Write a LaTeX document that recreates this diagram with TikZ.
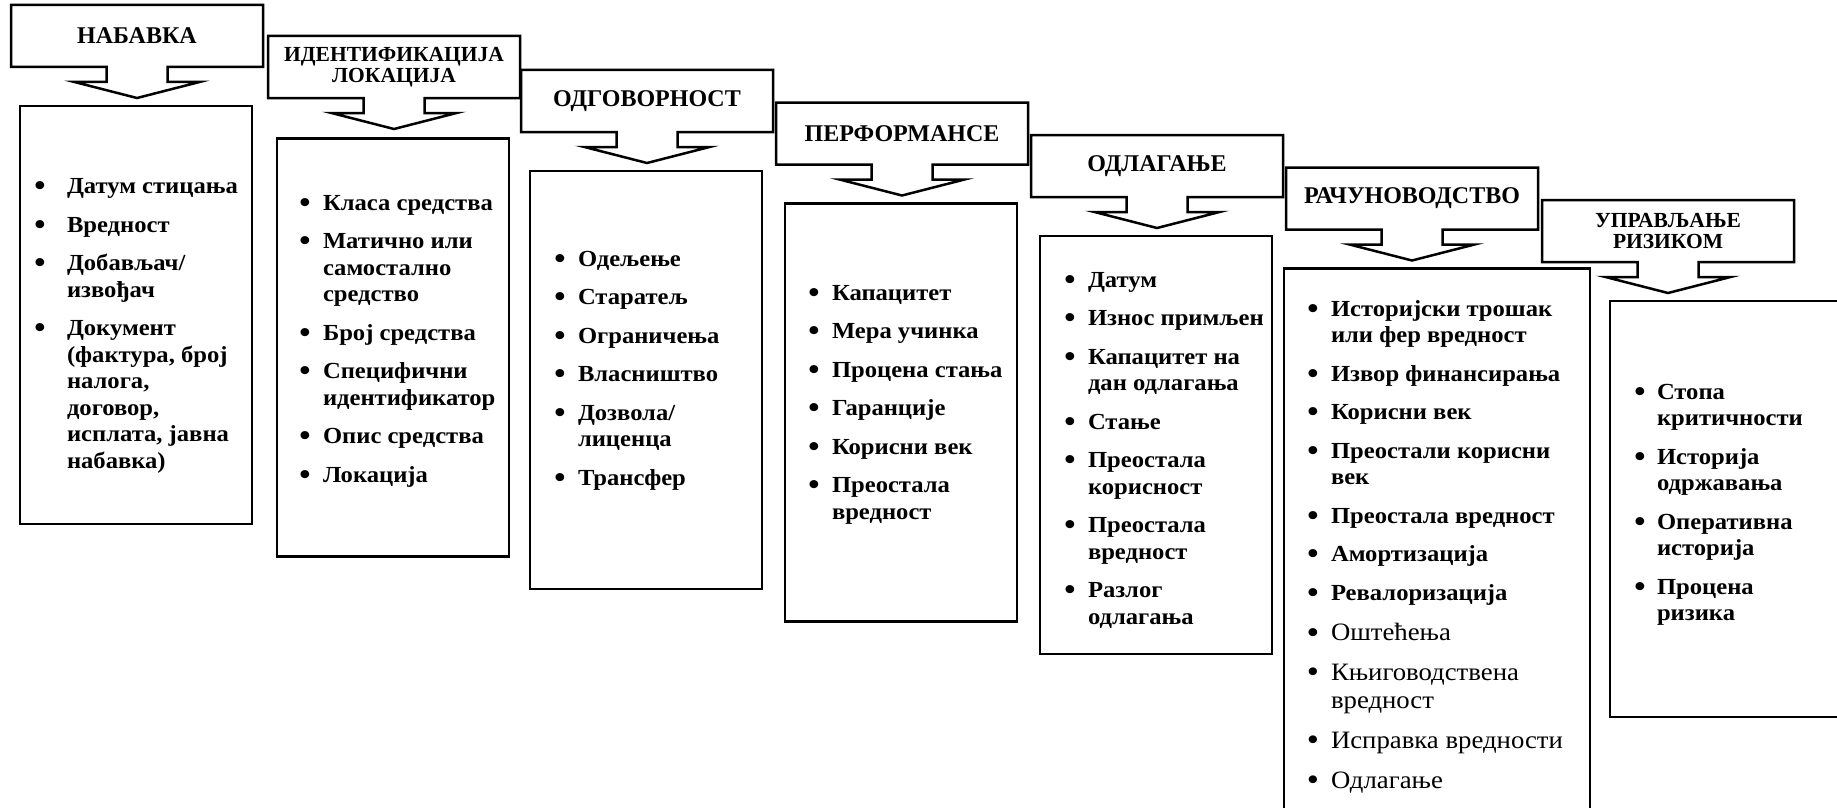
\documentclass[tikz,border=0pt]{standalone}
\usepackage{fontspec}
\setmainfont{Liberation Serif}[FakeStretch=1.07]
\newfontfamily\hfont{Liberation Serif}
\usetikzlibrary{calc}
\newlength\bhang
\newcommand\blist[2]{\vtop{\hsize=330pt\parindent=0pt\parskip=12pt\relax\def\\{\newline}\setlength\bhang{#1}\fontsize{23}{26.5}\selectfont\bfseries #2}}
\newcommand\bdot{\raisebox{-2.2pt}{\scalebox{1.3}{\textbullet}}}
\newcommand\bl[1]{\noindent\hangindent=\bhang\hangafter=1\hbox to\bhang{\hbox to 0pt{\hss\bdot\hss}\hss}\strut#1\par}
\newcommand\rg{\fontsize{25}{28}\selectfont\mdseries}
\newcommand\callout[1]{%
  \draw[hline] (#1.north west) -- (#1.north east) -- (#1.south east)
    -- ($(#1.south)+(30.5,0)$) -- ++(0,15) -- ++(32,0) -- ($(#1.south)+(0,31)$)
    -- ($(#1.south)+(-62.5,15)$) -- ++(32,0) -- ($(#1.south)+(-30.5,0)$)
    -- (#1.south west) -- cycle;}
\tikzset{
  hdr/.style={minimum width=252pt, minimum height=62pt, inner sep=0pt, outer sep=0pt,
    font=\hfont\fontsize{24}{26}\selectfont\bfseries, align=center},
  hdrtwo/.style={hdr, font=\hfont\fontsize{21.5}{21.5}\selectfont\bfseries},
  hline/.style={draw=black, line width=2.5pt, line join=miter},
  cbox/.style={draw=black, line width=2.5pt, inner sep=0pt, outer sep=0pt, anchor=north west},
  lst/.style={inner sep=0pt, outer sep=0pt, anchor=north west},
}
\begin{document}
\begin{tikzpicture}[x=1pt,y=-1pt]
\clip (0,0) rectangle (1837,808);
\path[use as bounding box] (0,0) rectangle (1837,808);
% headers
\node[hdr] (h1) at (137,36) {НАБАВКА};
\node[hdrtwo] (h2) at (394,67) {ИДЕНТИФИКАЦИЈА\\ЛОКАЦИЈА};
\node[hdr] (h3) at (647,101) {ОДГОВОРНОСТ};
\node[hdr] (h4) at (902,133.5) {ПЕРФОРМАНСЕ};
\node[hdr] (h5) at (1157,166) {ОДЛАГАЊЕ};
\node[hdr] (h6) at (1412,198.5) {РАЧУНОВОДСТВО};
\node[hdrtwo] (h7) at (1668,231) {УПРАВЉАЊЕ\\РИЗИКОМ};
\foreach \h in {h1,h2,h3,h4,h5,h6,h7} {\callout{\h}}
% content boxes
\node[cbox, minimum width=232pt, minimum height=418pt] (c1) at (20,106) {};
\node[cbox, minimum width=232pt, minimum height=418pt] (c2) at (277,138.5) {};
\node[cbox, minimum width=232pt, minimum height=418pt] (c3) at (530,171) {};
\node[cbox, minimum width=232pt, minimum height=418pt] (c4) at (785,203.5) {};
\node[cbox, minimum width=232pt, minimum height=418pt] (c5) at (1040,236) {};
\node[cbox, minimum width=306pt, minimum height=600pt] (c6) at (1284,268.5) {};
\node[cbox, minimum width=300pt, minimum height=416pt] (c7) at (1610,301) {};
% lists
\node[lst] (l1) at (40,175) {\blist{27pt}{%
  \bl{Датум стицања}
  \bl{Вредност}
  \bl{Добављач/\\извођач}
  \bl{Документ\\(фактура, број\\налога,\\договор,\\исплата, јавна\\набавка)}}};
\node[lst] (l2) at (305,191.5) {\blist{18pt}{%
  \bl{Класа средства}
  \bl{Матично или\\самостално\\средство}
  \bl{Број средства}
  \bl{Специфични\\идентификатор}
  \bl{Опис средства}
  \bl{Локација}}};
\node[lst] (l3) at (560,247.5) {\blist{18pt}{%
  \bl{Одељење}
  \bl{Старатељ}
  \bl{Ограничења}
  \bl{Власништво}
  \bl{Дозвола/\\лиценца}
  \bl{Трансфер}}};
\node[lst] (l4) at (814,281.5) {\blist{18pt}{%
  \bl{Капацитет}
  \bl{Мера учинка}
  \bl{Процена стања}
  \bl{Гаранције}
  \bl{Корисни век}
  \bl{Преостала\\вредност}}};
\node[lst] (l5) at (1070,268.5) {\blist{18pt}{%
  \bl{Датум}
  \bl{Износ примљен}
  \bl{Капацитет на\\дан одлагања}
  \bl{Стање}
  \bl{Преостала\\корисност}
  \bl{Преостала\\вредност}
  \bl{Разлог\\одлагања}}};
\node[lst] (l6) at (1313,297.5) {\blist{18pt}{%
  \bl{Историјски трошак\\или фер вредност}
  \bl{Извор финансирања}
  \bl{Корисни век}
  \bl{Преостали корисни\\век}
  \bl{Преостала вредност}
  \bl{Амортизација}
  \bl{Ревалоризација}
  \bl{\rg Оштећења}
  \bl{\rg Књиговодствена\\вредност}
  \bl{\rg Исправка вредности}
  \bl{\rg Одлагање}}};
\node[lst] (l7) at (1640,380.5) {\blist{17pt}{%
  \bl{Стопа\\критичности}
  \bl{Историја\\одржавања}
  \bl{Оперативна\\историја}
  \bl{Процена\\ризика}}};
\end{tikzpicture}
\end{document}
